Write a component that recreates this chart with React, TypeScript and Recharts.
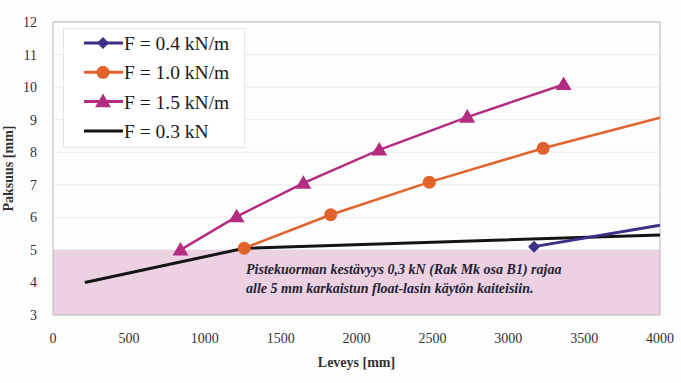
import React from 'react';
import { ComposedChart, Line, XAxis, YAxis, CartesianGrid, ReferenceArea, ReferenceLine } from 'recharts';

const f04 = [
  { x: 3170, y: 5.1 },
  { x: 4000, y: 5.76 },
];
const f10 = [
  { x: 1260, y: 5.05 },
  { x: 1830, y: 6.08 },
  { x: 2480, y: 7.08 },
  { x: 3230, y: 8.12 },
  { x: 4000, y: 9.06 },
];
const f15 = [
  { x: 840, y: 5.0 },
  { x: 1210, y: 6.02 },
  { x: 1650, y: 7.05 },
  { x: 2150, y: 8.07 },
  { x: 2730, y: 9.08 },
  { x: 3365, y: 10.08 },
];
const f03 = [
  { x: 210, y: 4.0 },
  { x: 1260, y: 5.05 },
  { x: 4000, y: 5.46 },
];
const xTicks = [0, 500, 1000, 1500, 2000, 2500, 3000, 3500, 4000];
const yTicks = [3, 4, 5, 6, 7, 8, 9, 10, 11, 12];
const seriesNames = ['F = 0.4 kN/m', 'F = 1.0 kN/m', 'F = 1.5 kN/m', 'F = 0.3 kN'];
const noteLines = [
  'Pistekuorman kestävyys 0,3 kN (Rak Mk osa B1) rajaa',
  'alle 5 mm karkaistun float-lasin käytön kaiteisiin.',
];

const NAVY = '#3b2f86';
const ORANGE = '#e2622c';
const MAGENTA = '#b42c80';
const BLACK = '#141414';
const FONT = '"Liberation Serif", "DejaVu Serif", serif';

const Diamond = (props: any) => {
  const { cx, cy, index } = props;
  if (cx == null || index !== 0) return <g key={`d${index}`} />;
  const s = 6;
  return <path key={`d${index}`} d={`M${cx},${cy - s} L${cx + s},${cy} L${cx},${cy + s} L${cx - s},${cy} Z`} fill={NAVY} />;
};
const Circle = (props: any) => {
  const { cx, cy, index, payload } = props;
  if (cx == null || payload.x >= 4000) return <g key={`c${index}`} />;
  return <circle key={`c${index}`} cx={cx} cy={cy} r={6.5} fill={ORANGE} />;
};
const Triangle = (props: any) => {
  const { cx, cy, index } = props;
  if (cx == null) return <g key={`t${index}`} />;
  const s = 8;
  return <path key={`t${index}`} d={`M${cx},${cy - s} L${cx + s},${cy + s * 0.7} L${cx - s},${cy + s * 0.7} Z`} fill={MAGENTA} />;
};

const legendItems = [
  { name: seriesNames[0], color: NAVY, marker: 'diamond' },
  { name: seriesNames[1], color: ORANGE, marker: 'circle' },
  { name: seriesNames[2], color: MAGENTA, marker: 'triangle' },
  { name: seriesNames[3], color: BLACK, marker: 'none' },
];

const Overlay = () => (
  <svg width={681} height={383} style={{ position: 'absolute', left: 0, top: 0, pointerEvents: 'none' }}>
    <g transform="translate(63,28)">
      <rect x={0.5} y={0.5} width={181} height={119} fill="#ffffff" stroke="#e4e4e4" />
      {legendItems.map((it, i) => {
        const y = 15 + i * 29.3;
        const mx = 40;
        let m: any = null;
        if (it.marker === 'diamond') m = <path d={`M${mx},${y - 6} L${mx + 6},${y} L${mx},${y + 6} L${mx - 6},${y} Z`} fill={it.color} />;
        if (it.marker === 'circle') m = <circle cx={mx} cy={y} r={6.5} fill={it.color} />;
        if (it.marker === 'triangle') m = <path d={`M${mx},${y - 8} L${mx + 8},${y + 5.6} L${mx - 8},${y + 5.6} Z`} fill={it.color} />;
        return (
          <g key={i}>
            <line x1={21} x2={60} y1={y} y2={y} stroke={it.color} strokeWidth={3} />
            {m}
            <text x={61} y={y + 7} fontFamily={FONT} fontSize={19.5} fill="#1a1a1a" style={{ whiteSpace: 'pre' }}>{it.name}</text>
          </g>
        );
      })}
    </g>
    {noteLines.map((t, i) => (
      <text key={i} x={246} y={274 + i * 19} fontFamily={FONT} fontSize={14} fontStyle="italic" fontWeight="bold" fill="#222233">{t}</text>
    ))}
  </svg>
);

export default function App() {
  return (
    <div style={{ position: 'absolute', left: 0, top: 0, width: 681, height: 383, background: '#fdfdfd' }}>
      <ComposedChart width={681} height={383} margin={{ top: 22, right: 21, bottom: 0, left: 0 }}>
        <CartesianGrid horizontal vertical={false} stroke="#ebebeb" />
        <ReferenceArea x1={0} x2={4000} y1={3} y2={5} fill="#ecd1e3" fillOpacity={1} stroke="none" ifOverflow="hidden" />
        <ReferenceLine y={12} stroke="#b8b8b8" />
        <ReferenceLine x={4000} stroke="#b8b8b8" />
        <XAxis
          type="number"
          dataKey="x"
          domain={[0, 4000]}
          ticks={xTicks}
          allowDataOverflow
          height={68}
          tickLine={false}
          axisLine={{ stroke: '#b8b8b8' }}
          tickMargin={12}
          tick={{ fontFamily: FONT, fontSize: 14, fill: '#333' }}
          label={{ value: 'Leveys [mm]', position: 'insideBottom', offset: 16, style: { fontFamily: FONT, fontSize: 14, fontWeight: 'bold', fill: '#333' } }}
        />
        <YAxis
          type="number"
          dataKey="y"
          domain={[3, 12]}
          ticks={yTicks}
          allowDataOverflow
          width={53}
          tickLine={false}
          axisLine={{ stroke: '#b8b8b8' }}
          tickMargin={10}
          tick={{ fontFamily: FONT, fontSize: 14, fill: '#333' }}
          label={{ value: 'Paksuus [mm]', angle: -90, position: 'insideLeft', offset: 8, style: { fontFamily: FONT, fontSize: 14, fontWeight: 'bold', fill: '#333', textAnchor: 'middle' } }}
        />
        <Line data={f03} dataKey="y" name={seriesNames[3]} stroke={BLACK} strokeWidth={3} dot={false} isAnimationActive={false} type="linear" />
        <Line data={f04} dataKey="y" name={seriesNames[0]} stroke={NAVY} strokeWidth={3} dot={Diamond} isAnimationActive={false} type="linear" />
        <Line data={f10} dataKey="y" name={seriesNames[1]} stroke={ORANGE} strokeWidth={2.5} dot={Circle} isAnimationActive={false} type="linear" />
        <Line data={f15} dataKey="y" name={seriesNames[2]} stroke={MAGENTA} strokeWidth={2.5} dot={Triangle} isAnimationActive={false} type="linear" />
      </ComposedChart>
      <Overlay />
    </div>
  );
}
